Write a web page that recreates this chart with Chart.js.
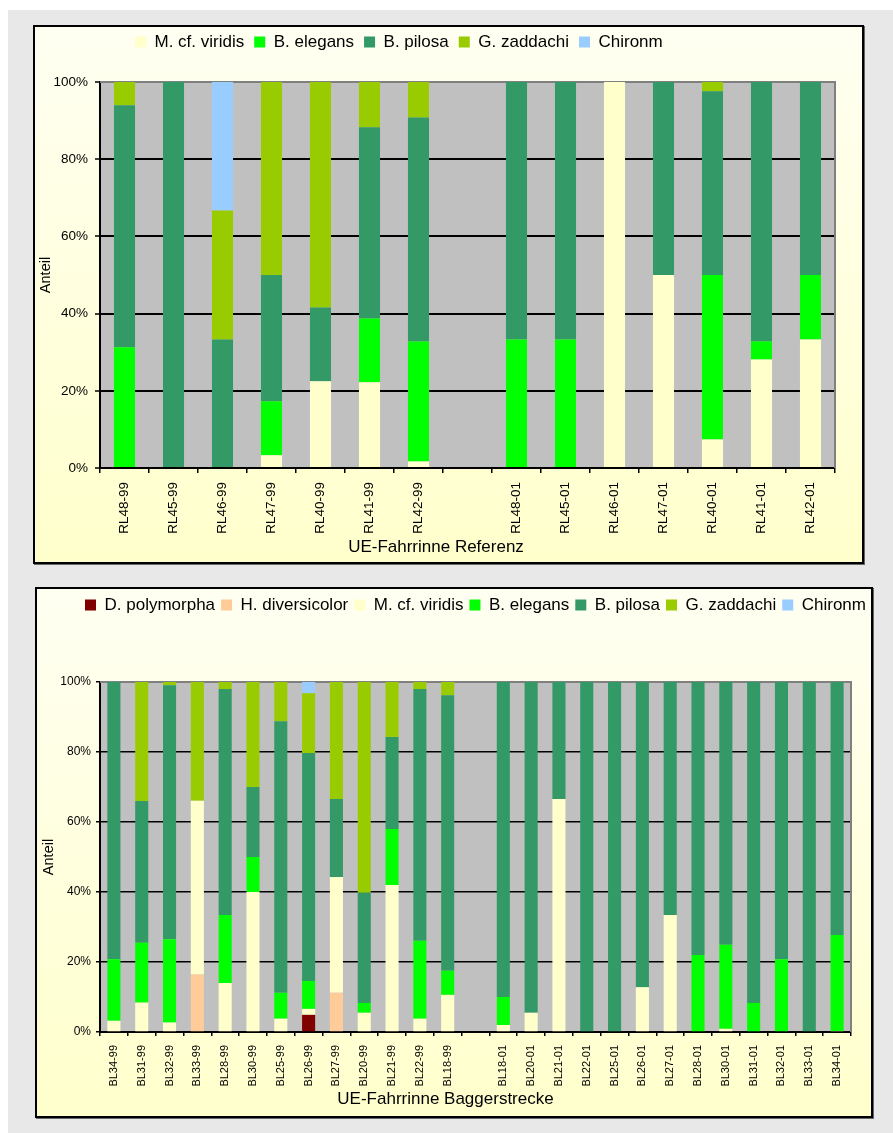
<!DOCTYPE html>
<html><head><meta charset="utf-8">
<script src="https://cdn.jsdelivr.net/npm/chart.js@4.4.1/dist/chart.umd.min.js"></script>
<style>
html,body{margin:0;padding:0;background:#fff;}
#bg{position:absolute;left:8px;top:10px;width:885px;height:1123px;background:#e8e8e8;}
.panel{position:absolute;box-sizing:border-box;border:2px solid #000;background:linear-gradient(#fffff2,#ffffcc);box-shadow:1px 1px 0 #666;}
#p1{left:33px;top:25px;width:831px;height:539px;}
#p2{left:35px;top:587px;width:838px;height:531px;}
canvas{display:block;}
</style></head><body>
<div id="bg"></div>
<div class="panel" id="p1"><canvas id="c1" width="827" height="535" style="width:827px;height:535px"></canvas></div>
<div class="panel" id="p2"><canvas id="c2" width="834" height="527" style="width:834px;height:527px"></canvas></div>
<script>
// ---------- Top chart: UE-Fahrrinne Referenz ----------
const refCategories = ['RL48-99','RL45-99','RL46-99','RL47-99','RL40-99','RL41-99','RL42-99','',
                       'RL48-01','RL45-01','RL46-01','RL47-01','RL40-01','RL41-01','RL42-01'];
const refViridis  = [0, 0, 0, 3.3, 22.5, 22.2, 1.7, null, 0, 0, 100, 50, 7.4, 28.1, 33.3];
const refElegans  = [31.3, 0, 0, 14.0, 0, 16.5, 31.1, null, 33.3, 33.3, 0, 0, 42.6, 4.7, 16.7];
const refPilosa   = [62.7, 100, 33.3, 32.7, 19.1, 49.6, 58.0, null, 66.7, 66.7, 0, 50, 47.6, 67.2, 50];
const refZaddachi = [6.0, 0, 33.4, 50, 58.4, 11.7, 9.2, null, 0, 0, 0, 0, 2.4, 0, 0];
const refChironm  = [0, 0, 33.3, 0, 0, 0, 0, null, 0, 0, 0, 0, 0, 0, 0];

// ---------- Bottom chart: UE-Fahrrinne Baggerstrecke ----------
const bagCategories = ['BL34-99','BL31-99','BL32-99','BL33-99','BL28-99','BL30-99','BL25-99','BL26-99','BL27-99','BL20-99','BL21-99','BL22-99','BL18-99','',
                       'BL18-01','BL20-01','BL21-01','BL22-01','BL25-01','BL26-01','BL27-01','BL28-01','BL30-01','BL31-01','BL32-01','BL33-01','BL34-01'];
const bagPolymorpha  = [0,0,0,0,0,0,0,4.9,0,0,0,0,0,null, 0,0,0,0,0,0,0,0,0,0,0,0,0];
const bagDiversicolor= [0,0,0,16.4,0,0,0,0,11.2,0,0,0,0,null, 0,0,0,0,0,0,0,0,0,0,0,0,0];
const bagViridis     = [3.2,8.4,2.7,49.7,14.0,40,3.8,1.7,33.1,5.5,42,3.8,10.6,null, 2,5.5,66.6,0,0,12.8,33.4,0,0.9,0,0,0,0.3];
const bagElegans     = [17.6,17.1,23.8,0,19.4,10,7.4,8.0,0,2.8,16,22.3,6.9,null, 8,0,0,0,0,0,0,22,24,8.3,20.8,0,27.4];
const bagPilosa      = [79.2,40.5,72.6,0,64.6,20,77.6,65.1,22.3,31.5,26.3,71.9,78.7,null, 90,94.5,33.4,100,100,87.2,66.6,78,75.1,91.7,79.2,100,72.3];
const bagZaddachi    = [0,34.0,0.9,33.9,2.0,30,11.2,17.1,33.4,60.2,15.7,2.0,3.8,null, 0,0,0,0,0,0,0,0,0,0,0,0,0];
const bagChironm     = [0,0,0,0,0,0,0,3.2,0,0,0,0,0,null, 0,0,0,0,0,0,0,0,0,0,0,0,0];

const yTicks = [0,20,40,60,80,100];

const COL = {
  poly:'#800000', div:'#FFCC99', vir:'#FFFFCC', ele:'#00FF00', pil:'#339966', zad:'#99CC00', chi:'#99CCFF'
};

Chart.defaults.font.family = "'Liberation Sans', Arial, sans-serif";
Chart.defaults.color = '#000';

const plotFrame = {
  id:'plotFrame',
  beforeDraw(chart){
    const {ctx, chartArea:a} = chart;
    ctx.save();
    ctx.fillStyle = '#c0c0c0';
    ctx.fillRect(a.left, a.top, a.right-a.left, a.bottom-a.top);
    ctx.restore();
  },
  beforeDatasetsDraw(chart){
    const {ctx, chartArea:a} = chart;
    ctx.save();
    ctx.strokeStyle = '#808080';
    ctx.lineWidth = 2;
    ctx.beginPath();
    ctx.moveTo(a.left, a.top); ctx.lineTo(a.right, a.top); ctx.lineTo(a.right, a.bottom);
    ctx.stroke();
    ctx.restore();
  }
};
const legendPlace = {
  id:'legendPlace',
  afterLayout(chart, args, opts){
    const lg = chart.legend;
    if (!lg) return;
    const w = lg.right - lg.left, h = lg.bottom - lg.top;
    lg.left = opts.left; lg.right = opts.left + w;
    lg.top = opts.top; lg.bottom = opts.top + h;
  }
};

function ds(label, data, color, bp){
  return {label, data, backgroundColor:color, borderWidth:0, barPercentage:bp, categoryPercentage:1};
}

function makeOptions(cfg){
  return {
    responsive:false, animation:false, events:[],
    layout:{padding:cfg.padding},
    plugins:{
      tooltip:{enabled:false},
      legend:{display:true, position:'top', align:'start',
        labels:{boxWidth:11, boxHeight:11, font:{size:17}, color:'#000', padding:cfg.legendPad}},
      legendPlace:{left:cfg.legendLeft, top:cfg.legendTop},
      title:{display:true, position:'bottom', text:cfg.xTitle, color:'#000',
        font:{size:17, weight:'normal'}, padding:{top:0, bottom:cfg.titleBottom}}
    },
    scales:{
      x:{
        stacked:true,
        grid:{display:true, drawOnChartArea:false, drawTicks:true, tickLength:cfg.xTickLen, tickColor:'#000', color:'#000', offset:true, lineWidth:1.5},
        border:{display:true, color:'#000', width:2},
        ticks:{autoSkip:false, maxRotation:90, minRotation:90, font:{size:cfg.xFont}, color:'#000', padding:cfg.xPad},
        afterFit(s){ s.height = cfg.xHeight; }
      },
      y:{
        stacked:true, min:0, max:100,
        afterBuildTicks(s){ s.ticks = yTicks.map(v=>({value:v})); },
        ticks:{callback:v=>v+'%', font:{size:cfg.yFont}, color:'#000', padding:cfg.yPad},
        grid:{color:c=> (c.tick && (c.tick.value===0 || c.tick.value===100)) ? 'rgba(0,0,0,0)' : '#000',
              lineWidth:cfg.gridW, tickLength:cfg.yTickLen, tickColor:'#000', tickWidth:1.5, drawTicks:true},
        border:{display:true, color:'#000', width:2},
        title:{display:true, text:'Anteil', font:{size:14.5}, color:'#000', padding:0},
        afterFit(s){ s.width = cfg.yWidth; }
      }
    }
  };
}

new Chart(document.getElementById('c1'), {
  type:'bar',
  data:{
    labels: refCategories,
    datasets:[
      ds('M. cf. viridis', refViridis, COL.vir, 0.43),
      ds('B. elegans', refElegans, COL.ele, 0.43),
      ds('B. pilosa', refPilosa, COL.pil, 0.43),
      ds('G. zaddachi', refZaddachi, COL.zad, 0.43),
      ds('Chironm', refChironm, COL.chi, 0.43)
    ]
  },
  options: makeOptions({
    padding:{left:2, right:27, top:18, bottom:0},
    legendPad:10, legendLeft:90, legendTop:-3.5,
    xTitle:'UE-Fahrrinne Referenz', titleBottom:4,
    xTickLen:5, xFont:13.5, xPad:9, xHeight:69.6,
    yFont:13.5, yPad:7, yTickLen:5, yWidth:63, gridW:2
  }),
  plugins:[plotFrame, legendPlace]
});

new Chart(document.getElementById('c2'), {
  type:'bar',
  data:{
    labels: bagCategories,
    datasets:[
      ds('D. polymorpha', bagPolymorpha, COL.poly, 0.47),
      ds('H. diversicolor', bagDiversicolor, COL.div, 0.47),
      ds('M. cf. viridis', bagViridis, COL.vir, 0.47),
      ds('B. elegans', bagElegans, COL.ele, 0.47),
      ds('B. pilosa', bagPilosa, COL.pil, 0.47),
      ds('G. zaddachi', bagZaddachi, COL.zad, 0.47),
      ds('Chironm', bagChironm, COL.chi, 0.47)
    ]
  },
  options: makeOptions({
    padding:{left:3, right:20, top:60, bottom:0},
    legendPad:6, legendLeft:42, legendTop:1.5,
    xTitle:'UE-Fahrrinne Baggerstrecke', titleBottom:6,
    xTickLen:4, xFont:11, xPad:9, xHeight:57.6,
    yFont:12, yPad:5, yTickLen:4, yWidth:60, gridW:1.5
  }),
  plugins:[plotFrame, legendPlace]
});
</script>
</body></html>
